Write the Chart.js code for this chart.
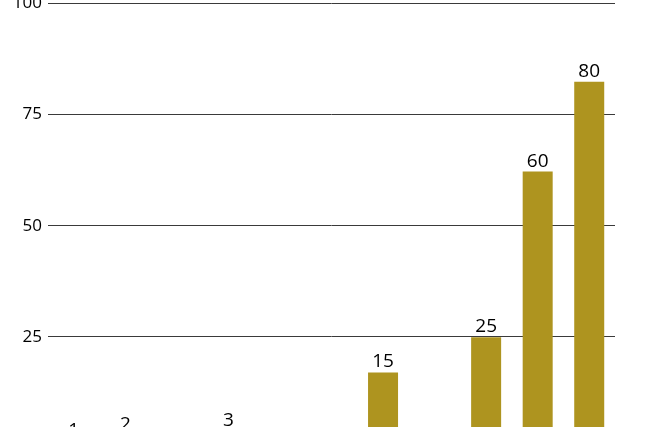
<!DOCTYPE html>
<html>
<head>
<meta charset="utf-8">
<script src="https://cdn.jsdelivr.net/npm/chart.js@4"></script>
<style>
  html, body { margin: 0; padding: 0; background: #fff; overflow: hidden; }
  #wrap { position: absolute; left: 0; top: 0; width: 650px; height: 470px; }
</style>
</head>
<body>
<div id="wrap"><canvas id="chart"></canvas></div>
<script>
// categories (11 slots, only some carry a bar)
var categories = ['c1', 'c2', 'c3', 'c4', 'c5', 'c6', 'c7', 'c8', 'c9', 'c10', 'c11'];
// bar heights
var values = [1.5, 2.9, null, 3.8, null, null, 17, null, 24.9, 62.2, 82.4];
// text printed above each bar
var valueLabels = ['1', '2', '', '3', '', '', '15', '', '25', '60', '80'];
var yTicks = [0, 25, 50, 75, 100];

var barColor = '#ae941f';

// draws the value text above the bars
var barLabels = {
    id: 'barLabels',
    afterDatasetsDraw: function(chart) {
        var ctx = chart.ctx;
        var meta = chart.getDatasetMeta(0);
        ctx.save();
        ctx.font = '19px "Open Sans"';
        ctx.fillStyle = '#000';
        ctx.textAlign = 'center';
        ctx.textBaseline = 'alphabetic';
        meta.data.forEach(function(bar, i) {
            if ( values[i] === null || !valueLabels[i] ) {
                return;
            }
            ctx.fillText(valueLabels[i], bar.x, bar.y - 5);
        });
        ctx.restore();
    }
};

new Chart(document.getElementById('chart').getContext('2d'), {
    type: 'bar',
    data: {
        labels: categories,
        datasets: [{
            data: values,
            backgroundColor: barColor,
            borderWidth: 0,
            barPercentage: 0.582,
            categoryPercentage: 1
        }]
    },
    options: {
        responsive: true,
        maintainAspectRatio: false,
        animation: false,
        layout: { padding: { top: 3.5, right: 35, bottom: 22, left: 0 } },
        plugins: { legend: { display: false }, tooltip: { enabled: false } },
        scales: {
            x: { display: false },
            y: {
                min: 0,
                max: 100,
                afterBuildTicks: function(scale) {
                    scale.ticks = yTicks.map(function(v) { return { value: v }; });
                },
                afterFit: function(scale) {
                    scale.width = 48;
                    scale.paddingTop = 0;
                    scale.paddingBottom = 0;
                },
                border: { display: false },
                grid: {
                    color: '#3a3a3a',
                    lineWidth: 1,
                    drawTicks: false
                },
                ticks: {
                    padding: 6,
                    color: '#000',
                    font: { family: '"Open Sans"', size: 17 }
                }
            }
        }
    },
    plugins: [barLabels]
});
</script>
</body>
</html>
